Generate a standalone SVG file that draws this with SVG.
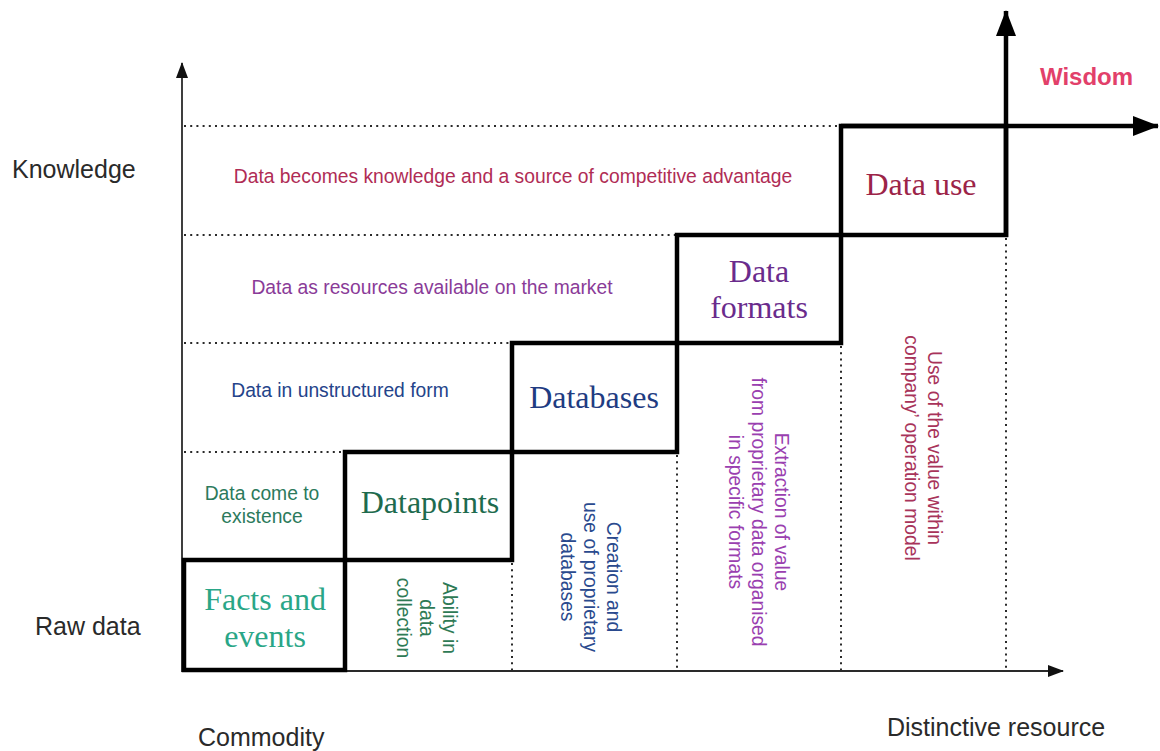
<svg xmlns="http://www.w3.org/2000/svg" width="1160" height="751" viewBox="0 0 1160 751">
<style>
.axis{stroke:#2a2a2a;stroke-width:1.8;fill:none}
.dot{stroke:#2a2a2a;stroke-width:2;stroke-dasharray:2 4.2;fill:none}
.box{stroke:#000;stroke-width:4.5;fill:none;stroke-linejoin:miter}
.big{stroke:#000;stroke-width:4.5;fill:none}
.lab{font-family:"Liberation Sans",Arial,sans-serif;font-size:25px;fill:#2a2a2a}
.s{font-family:"Liberation Sans",Arial,sans-serif;font-size:19.3px;text-anchor:middle}
.r{font-family:"Liberation Serif","Times New Roman",serif;font-size:32px;text-anchor:middle}
</style>
<defs>
<marker id="smallArrow" viewBox="0 0 16 12" refX="15" refY="6" markerWidth="16" markerHeight="12" markerUnits="userSpaceOnUse" orient="auto">
<path d="M0,0 L16,6 L0,12 Z" fill="#111"/>
</marker>
<marker id="bigArrow" viewBox="0 0 26 20" refX="25" refY="10" markerWidth="26" markerHeight="20" markerUnits="userSpaceOnUse" orient="auto">
<path d="M0,0 L26,10 L0,20 Z" fill="#000"/>
</marker>
</defs>

<g id="guides">
<line class="dot" x1="184" y1="126" x2="840" y2="126"/>
<line class="dot" x1="184" y1="235" x2="677" y2="235"/>
<line class="dot" x1="184" y1="343" x2="512" y2="343"/>
<line class="dot" x1="184" y1="452" x2="345" y2="452"/>
<line class="dot" x1="512" y1="563" x2="512" y2="670"/>
<line class="dot" x1="677" y1="455" x2="677" y2="670"/>
<line class="dot" x1="841" y1="346" x2="841" y2="670"/>
<line class="dot" x1="1006" y1="238" x2="1006" y2="670"/>
</g>

<g id="connectors">
<line class="axis" x1="182" y1="672" x2="182" y2="63" marker-end="url(#smallArrow)"/>
<line class="axis" x1="182" y1="671" x2="1063" y2="671" marker-end="url(#smallArrow)"/>
<line class="big" x1="1006" y1="237" x2="1006" y2="11" marker-end="url(#bigArrow)"/>
<line class="big" x1="841" y1="126" x2="1158" y2="126" marker-end="url(#bigArrow)"/>
</g>

<g id="node-facts">
<rect class="box" x="184" y="560" width="161" height="110"/>
<text class="r" fill="#2aa687"><tspan x="265" y="610">Facts and</tspan><tspan x="265" y="647">events</tspan></text>
</g>
<g id="node-datapoints">
<rect class="box" x="345" y="452" width="167" height="108"/>
<text class="r" fill="#1e6b4e" x="430" y="513">Datapoints</text>
</g>
<g id="node-databases">
<rect class="box" x="512" y="343" width="165" height="109"/>
<text class="r" fill="#1f3c82" x="594" y="408">Databases</text>
</g>
<g id="node-formats">
<rect class="box" x="677" y="235" width="164" height="108"/>
<text class="r" fill="#6a2b8c"><tspan x="759" y="282">Data</tspan><tspan x="759" y="318">formats</tspan></text>
</g>
<g id="node-datause">
<rect class="box" x="841" y="126" width="165" height="109"/>
<text class="r" fill="#9c2448" x="921" y="195">Data use</text>
</g>

<g id="row-labels">
<text class="s" fill="#b02c55" x="513" y="183">Data becomes knowledge and a source of competitive advantage</text>
<text class="s" fill="#8a3b98" x="432" y="294">Data as resources available on the market</text>
<text class="s" fill="#24438a" x="340" y="397">Data in unstructured form</text>
<text class="s" fill="#2c7a5c"><tspan x="262" y="500">Data come to</tspan><tspan x="262" y="523">existence</tspan></text>
</g>

<g id="column-labels">
<g fill="#2e7a55">
<text class="s" transform="translate(443 618) rotate(90)">Ability in</text>
<text class="s" transform="translate(420 618) rotate(90)">data</text>
<text class="s" transform="translate(397 618) rotate(90)">collection</text>
</g>
<g fill="#2a4a8e">
<text class="s" transform="translate(607 577) rotate(90)">Creation and</text>
<text class="s" transform="translate(584 577) rotate(90)">use of proprietary</text>
<text class="s" transform="translate(561 577) rotate(90)">databases</text>
</g>
<g fill="#9a3fb0">
<text class="s" transform="translate(775 512) rotate(90)">Extraction of value</text>
<text class="s" transform="translate(752 512) rotate(90)">from proprietary data organised</text>
<text class="s" transform="translate(729 512) rotate(90)">in specific formats</text>
</g>
<g fill="#a8335a">
<text class="s" transform="translate(928 448) rotate(90)">Use of the value within</text>
<text class="s" transform="translate(905 448) rotate(90)">company’ operation model</text>
</g>
</g>

<g id="axis-labels">
<text class="lab" x="12" y="178">Knowledge</text>
<text class="lab" x="35" y="635">Raw data</text>
<text class="lab" x="198" y="746">Commodity</text>
<text class="lab" x="887" y="736">Distinctive resource</text>
<text x="1040" y="85" font-family="Liberation Sans,Arial,sans-serif" font-size="24" font-weight="bold" fill="#e2406a">Wisdom</text>
</g>
</svg>
